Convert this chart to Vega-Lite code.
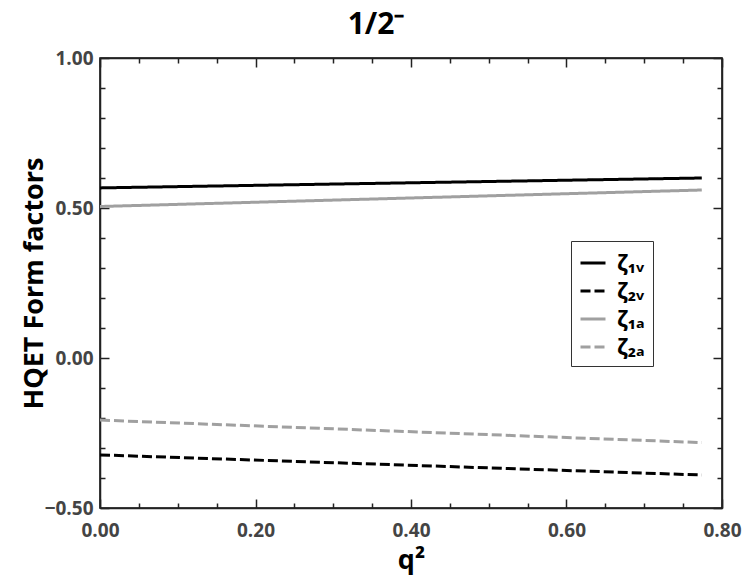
{
  "$schema": "https://vega.github.io/schema/vega-lite/v6.json",
  "autosize": "none",
  "width": 622,
  "height": 450,
  "padding": {"left": 100, "top": 58, "right": 25, "bottom": 80},
  "background": "white",
  "config": {
    "font": "Open Sans",
    "view": {"stroke": "black", "strokeWidth": 1.5},
    "axis": {
      "domainColor": "#222222",
      "domainWidth": 1.5,
      "tickColor": "#222222",
      "tickWidth": 1.5,
      "tickSize": -9,
      "grid": false,
      "labelFont": "Open Sans",
      "labelFontWeight": "bold",
      "labelFontSize": 19,
      "labelColor": "#444444",
      "labelOverlap": false,
      "labelFlush": false,
      "labelBound": false,
      "titleFont": "Open Sans",
      "titleFontWeight": "bold",
      "titleColor": "black"
    }
  },
  "title": {
    "text": "1/2⁻",
    "font": "Open Sans",
    "fontSize": 30,
    "fontWeight": "bold",
    "color": "black",
    "anchor": "middle",
    "dx": -35,
    "offset": 9
  },
  "data": {
    "values": [
      {"q2": 0.0, "ff": 0.567, "s": "ζ₁ᵥ"},
      {"q2": 0.774, "ff": 0.600, "s": "ζ₁ᵥ"},
      {"q2": 0.0, "ff": -0.323, "s": "ζ₂ᵥ"},
      {"q2": 0.774, "ff": -0.390, "s": "ζ₂ᵥ"},
      {"q2": 0.0, "ff": 0.505, "s": "ζ₁ₐ"},
      {"q2": 0.774, "ff": 0.560, "s": "ζ₁ₐ"},
      {"q2": 0.0, "ff": -0.207, "s": "ζ₂ₐ"},
      {"q2": 0.774, "ff": -0.282, "s": "ζ₂ₐ"}
    ]
  },
  "layer": [
    {
      "mark": {"type": "line", "strokeWidth": 3},
      "encoding": {
        "x": {
          "field": "q2", "type": "quantitative",
          "scale": {"domain": [0, 0.8], "nice": false, "zero": false},
          "axis": {
            "orient": "bottom",
            "title": "q²",
            "titleFontSize": 27,
            "titlePadding": 7,
            "labelFontSize": 19,
            "values": [0,0.05,0.1,0.15,0.2,0.25,0.3,0.35,0.4,0.45,0.5,0.55,0.6,0.65,0.7,0.75,0.8],
            "labelExpr": "abs(datum.value*5 - round(datum.value*5)) < 1e-6 ? format(datum.value, '.2f') : ''",
            "tickSize": -9,
            "tickDash": {"condition": {"test": "abs(datum.value*5 - round(datum.value*5)) < 1e-6", "value": []}, "value": [5, 20]},
            "labelPadding": 22
          }
        },
        "y": {
          "field": "ff", "type": "quantitative",
          "scale": {"domain": [-0.5, 1.0], "nice": false, "zero": false},
          "axis": {
            "orient": "left",
            "title": "HQET Form factors",
            "titleFontSize": 27,
            "titlePadding": -4,
            "labelFontSize": 19,
            "values": [-0.5,-0.4,-0.3,-0.2,-0.1,0,0.1,0.2,0.3,0.4,0.5,0.6,0.7,0.8,0.9,1.0],
            "labelExpr": "abs(datum.value*2 - round(datum.value*2)) < 1e-6 ? format(datum.value, '.2f') : ''",
            "tickSize": -9,
            "tickDash": {"condition": {"test": "abs(datum.value*2 - round(datum.value*2)) < 1e-6", "value": []}, "value": [5, 20]},
            "labelPadding": 16
          }
        },
        "color": {
          "field": "s", "type": "nominal",
          "scale": {"domain": ["ζ₁ᵥ", "ζ₂ᵥ", "ζ₁ₐ", "ζ₂ₐ"], "range": ["black", "black", "#a0a0a0", "#a0a0a0"]},
          "legend": {
            "title": null,
            "orient": "none",
            "legendX": 471,
            "legendY": 183,
            "strokeColor": "#333333",
            "padding": 8,
            "symbolType": "stroke",
            "symbolSize": 625,
            "symbolStrokeWidth": 3,
            "labelFont": "Noto Sans",
            "labelFontSize": 22,
            "labelFontWeight": "bold",
            "labelColor": "black",
            "rowPadding": 3,
            "labelOffset": 10
          }
        },
        "strokeDash": {
          "field": "s", "type": "nominal",
          "scale": {"domain": ["ζ₁ᵥ", "ζ₂ᵥ", "ζ₁ₐ", "ζ₂ₐ"], "range": [[1, 0], [10, 4], [1, 0], [10, 4]]},
          "legend": null
        }
      }
    },
    {
      "mark": {"type": "point", "opacity": 0},
      "encoding": {
        "x": {
          "field": "q2", "type": "quantitative",
          "axis": {
            "orient": "top",
            "title": null,
            "labels": false,
            "values": [0,0.05,0.1,0.15,0.2,0.25,0.3,0.35,0.4,0.45,0.5,0.55,0.6,0.65,0.7,0.75,0.8],
            "tickSize": -9,
            "tickDash": {"condition": {"test": "abs(datum.value*5 - round(datum.value*5)) < 1e-6", "value": []}, "value": [5, 20]}
          }
        },
        "y": {
          "field": "ff", "type": "quantitative",
          "axis": {
            "orient": "right",
            "title": null,
            "labels": false,
            "values": [-0.5,-0.4,-0.3,-0.2,-0.1,0,0.1,0.2,0.3,0.4,0.5,0.6,0.7,0.8,0.9,1.0],
            "tickSize": -9,
            "tickDash": {"condition": {"test": "abs(datum.value*2 - round(datum.value*2)) < 1e-6", "value": []}, "value": [5, 20]}
          }
        }
      }
    }
  ],
  "resolve": {"axis": {"x": "independent", "y": "independent"}}
}
